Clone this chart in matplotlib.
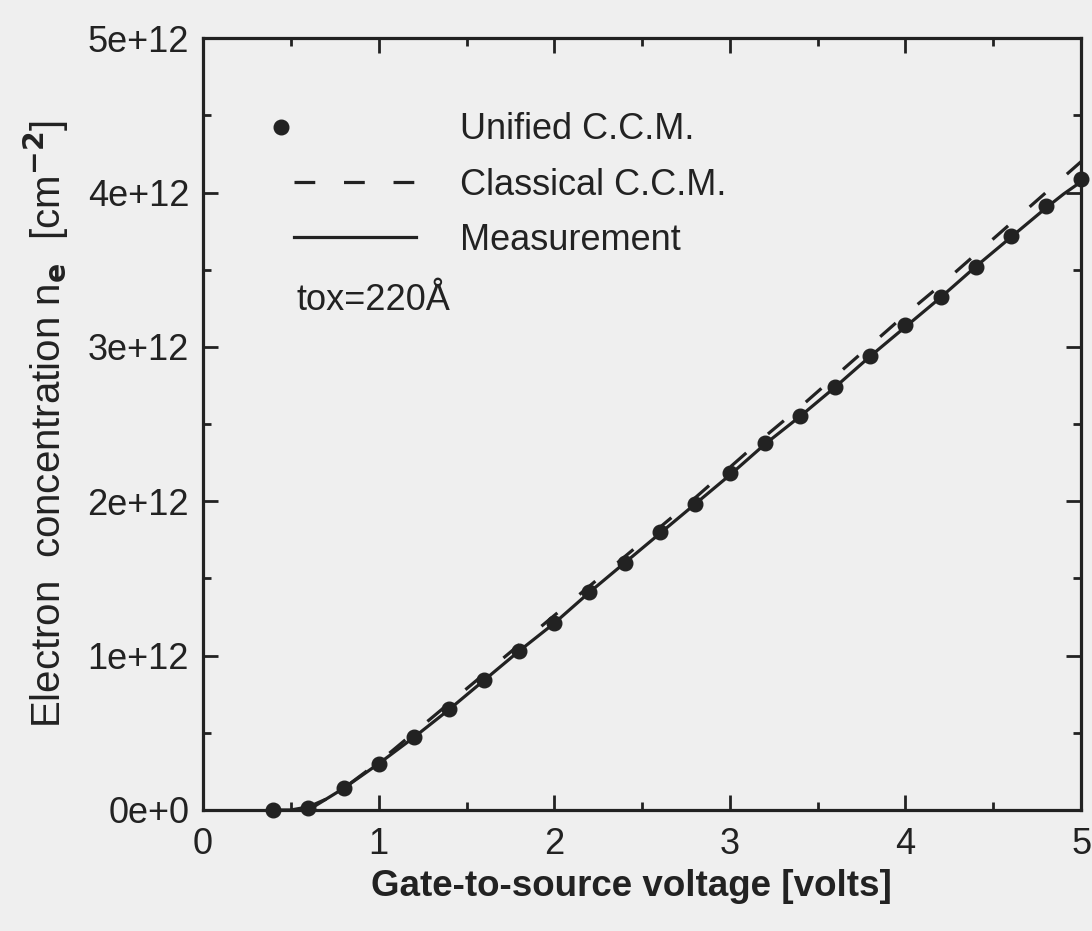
import matplotlib
matplotlib.use("Agg")
import matplotlib.pyplot as plt
from matplotlib.ticker import MultipleLocator, FixedLocator, FixedFormatter
from matplotlib.lines import Line2D
from matplotlib.legend_handler import HandlerLine2DCompound
import numpy as np

# Gate-to-source voltage (V) and electron concentration (1e12 cm^-2)
vg_unified = [0.4, 0.6, 0.8, 1.0, 1.2, 1.4, 1.6, 1.8, 2.0, 2.2, 2.4, 2.6, 2.8,
              3.0, 3.2, 3.4, 3.6, 3.8, 4.0, 4.2, 4.4, 4.6, 4.8, 5.0]
ns_unified = [0.0, 0.01, 0.14, 0.30, 0.47, 0.655, 0.84, 1.03, 1.21, 1.415, 1.60,
              1.80, 1.98, 2.18, 2.38, 2.55, 2.74, 2.94, 3.14, 3.32, 3.52, 3.72,
              3.91, 4.09]

vg_classical = [0.6, 0.8, 1.0, 1.2, 1.4, 1.6, 1.8, 2.0, 2.2, 2.4, 2.6, 2.8, 3.0,
                3.2, 3.4, 3.6, 3.8, 4.0, 4.2, 4.4, 4.6, 4.8, 5.0]
ns_classical = [0.0, 0.14, 0.31, 0.50, 0.69, 0.88, 1.07, 1.26, 1.45, 1.64, 1.83,
                2.02, 2.22, 2.42, 2.61, 2.81, 3.01, 3.21, 3.40, 3.60, 3.80, 4.00,
                4.20]

vg_meas = [0.4, 0.5, 0.6, 0.7, 0.8, 0.9, 1.0, 1.2, 1.4, 1.6, 1.8, 2.0, 2.2, 2.4,
           2.6, 2.8, 3.0, 3.2, 3.4, 3.6, 3.8, 4.0, 4.2, 4.4, 4.6, 4.8, 4.9, 5.0]
ns_meas = [0.0, 0.0, 0.02, 0.07, 0.14, 0.22, 0.30, 0.47, 0.65, 0.84, 1.03, 1.21,
           1.41, 1.60, 1.79, 1.98, 2.17, 2.37, 2.55, 2.74, 2.94, 3.13, 3.32, 3.52,
           3.71, 3.90, 3.99, 4.07]

y_tick_values = [0, 1, 2, 3, 4, 5]
y_tick_labels = ["0e+0", "1e+12", "2e+12", "3e+12", "4e+12", "5e+12"]
x_tick_values = [0, 1, 2, 3, 4, 5]
x_tick_labels = ["0", "1", "2", "3", "4", "5"]

ink = "#222222"
paper = "#efefef"
font = "Liberation Sans"
dash = (0, (6.5, 9))


class LeftMarkerHandler(HandlerLine2DCompound):
    """Legend handler that puts a lone marker just left of the handle span."""

    def get_xdata(self, legend, xdescent, ydescent, width, height, fontsize):
        xdata = np.array([-xdescent, -xdescent + width], float)
        return xdata, np.array([-xdescent - 0.1 * width])


fig = plt.figure(figsize=(10.92, 9.31), dpi=100, facecolor=paper)
ax = fig.add_axes([0.186, 0.130, 0.804, 0.829], facecolor=paper)

ax.plot(vg_classical, ns_classical, color=ink, lw=2.3, ls=dash,
        dash_capstyle="butt")
ax.plot(vg_meas, ns_meas, color=ink, lw=2.3, solid_joinstyle="round")
ax.plot(vg_unified, ns_unified, ls="none", marker="o", ms=10.5, color=ink,
        mec=ink, clip_on=False)

ax.set_xlim(0, 5)
ax.set_ylim(0, 5)

for s in ax.spines.values():
    s.set_linewidth(2.3)
    s.set_color(ink)

ax.xaxis.set_major_locator(FixedLocator(x_tick_values))
ax.xaxis.set_major_formatter(FixedFormatter(x_tick_labels))
ax.xaxis.set_minor_locator(MultipleLocator(0.5))
ax.yaxis.set_major_locator(FixedLocator(y_tick_values))
ax.yaxis.set_major_formatter(FixedFormatter(y_tick_labels))
ax.yaxis.set_minor_locator(MultipleLocator(0.5))
ax.tick_params(which="both", direction="in", top=True, right=True,
               color=ink, width=2.0)
ax.tick_params(which="major", length=11)
ax.tick_params(which="minor", length=6)
ax.tick_params(axis="x", which="major", pad=12)
ax.tick_params(axis="y", which="major", pad=10)
for lab in ax.get_xticklabels() + ax.get_yticklabels():
    lab.set_fontfamily(font)
    lab.set_fontsize(26)
    lab.set_color(ink)

ax.set_xlabel("Gate-to-source voltage [volts]", fontfamily=font, fontsize=26.5,
              fontweight="bold", color=ink)
ax.xaxis.set_label_coords(0.488, -0.077)
ax.set_ylabel(r"Electron  concentration n$_{\mathbf{e}}$  [cm$^{\mathbf{-2}}$]",
              fontfamily=font, fontsize=29, color=ink, labelpad=12)

handles = [
    Line2D([], [], ls="none", marker="o", ms=10.5, color=ink),
    Line2D([], [], color=ink, lw=2.3, ls=dash, dash_capstyle="butt"),
    Line2D([], [], color=ink, lw=2.3),
]
labels = ["Unified C.C.M.", "Classical C.C.M.", "Measurement"]
leg = ax.legend(handles, labels, loc="upper left", bbox_to_anchor=(0.066, 0.946),
                frameon=False, handlelength=3.4, handletextpad=1.2,
                labelspacing=0.56, prop={"family": font, "size": 26},
                handler_map={handles[0]: LeftMarkerHandler()})
for t in leg.get_texts():
    t.set_color(ink)

ax.text(0.106, 0.66, "tox=220Å", transform=ax.transAxes, fontfamily=font,
        fontsize=26, color=ink, va="center", ha="left")

fig.savefig("out.png", dpi=100, facecolor=paper)
